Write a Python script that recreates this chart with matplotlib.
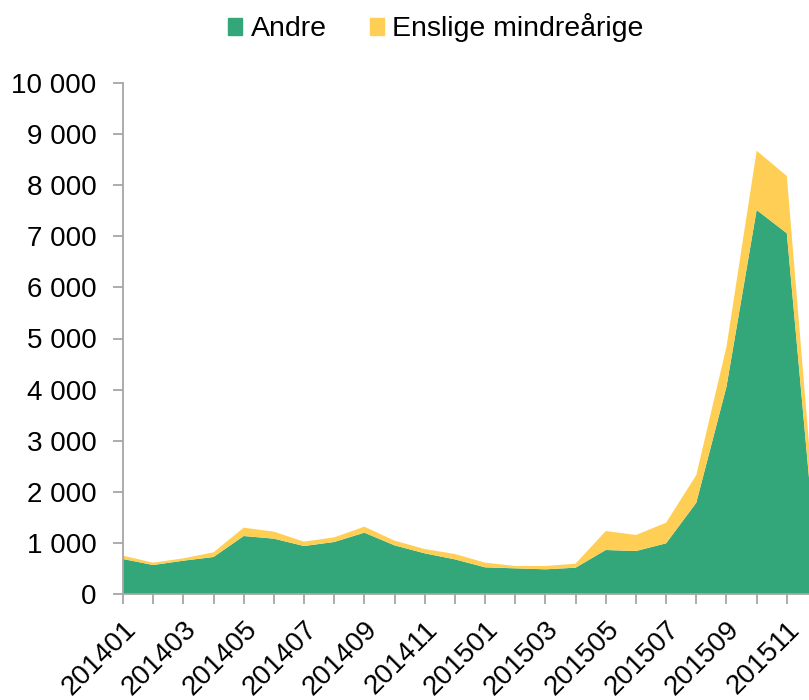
import numpy as np
import matplotlib
matplotlib.use("Agg")
import matplotlib.pyplot as plt
import matplotlib.transforms as mtransforms
from matplotlib.patches import Patch

mois = ["201401", "201402", "201403", "201404", "201405", "201406",
        "201407", "201408", "201409", "201410", "201411", "201412",
        "201501", "201502", "201503", "201504", "201505", "201506",
        "201507", "201508", "201509", "201510", "201511", "201512"]
andre = [685, 567, 652, 724, 1135, 1083, 939, 1018, 1200, 952, 796, 678,
         522, 502, 483, 515, 861, 841, 992, 1787, 4057, 7515, 7059, 550]
enslige = [65, 46, 46, 92, 163, 137, 85, 91, 118, 92, 84, 105,
           91, 46, 65, 79, 372, 314, 404, 542, 783, 1160, 1121, 500]
graduations_y = [0, 1000, 2000, 3000, 4000, 5000, 6000, 7000, 8000, 9000, 10000]

vert = "#33A67A"
jaune = "#FFCF55"
gris = "#A6A6A6"


def format_milliers(v):
    return "{:,}".format(int(v)).replace(",", " ")


def tracer():
    plt.rcParams['font.family'] = ['Liberation Sans', 'DejaVu Sans']
    fig = plt.figure(figsize=(8.09, 7.0), dpi=100)
    # the plot area goes past the right edge, like the cropped original
    ax = fig.add_axes([123 / 809, 106 / 700, 694 / 809, 511 / 700])

    x = np.arange(len(mois))
    ax.stackplot(x, andre, enslige, colors=[vert, jaune], linewidth=0)

    ax.set_xlim(0, len(mois) - 1)
    ax.set_ylim(0, 10000)
    ax.set_yticks(graduations_y)
    ax.set_yticklabels([format_milliers(v) for v in graduations_y], fontsize=20)
    ax.set_xticks(x)
    ax.set_xticklabels([m if i % 2 == 0 else "" for i, m in enumerate(mois)],
                       fontsize=20, rotation=45, ha="right", rotation_mode="anchor")
    decalage = mtransforms.ScaledTranslation(5 / 100, -3 / 100, fig.dpi_scale_trans)
    for lbl in ax.get_xticklabels():
        lbl.set_transform(lbl.get_transform() + decalage)

    for cote in ["top", "right"]:
        ax.spines[cote].set_visible(False)
    for cote in ["left", "bottom"]:
        ax.spines[cote].set_color(gris)
        ax.spines[cote].set_linewidth(1.3)
    ax.tick_params(axis="y", length=7, width=1.3, color=gris, pad=12)
    ax.tick_params(axis="x", length=7, width=1.3, color=gris, pad=9)

    poignees = [Patch(color=vert, label="Andre"),
                Patch(color=jaune, label="Enslige mindreårige")]
    fig.legend(handles=poignees, loc="center", bbox_to_anchor=(436 / 809, 1 - 28 / 700),
               ncol=2, frameon=False, fontsize=20.5, handlelength=0.5, handleheight=0.5,
               handletextpad=0.3, columnspacing=1.5)

    fig.savefig("out.png", dpi=100)


def main():
    tracer()


main()
